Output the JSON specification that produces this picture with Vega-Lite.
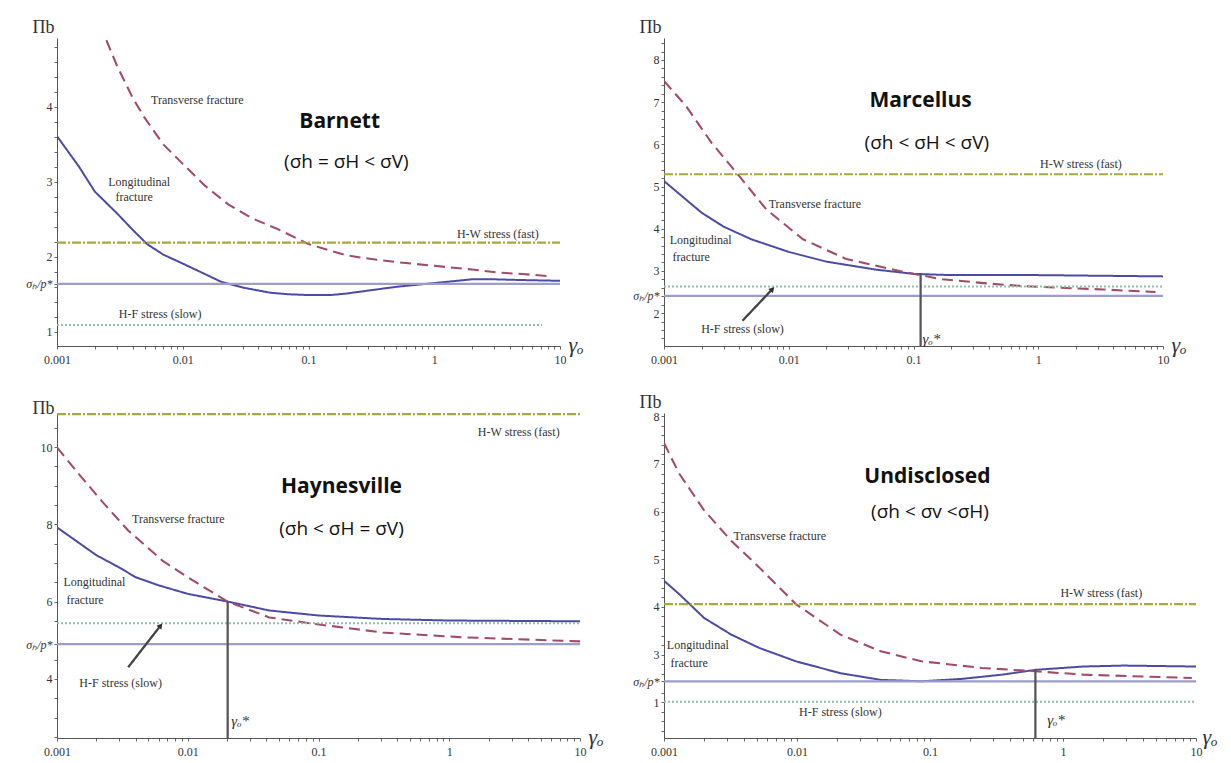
{
  "$schema": "https://vega.github.io/schema/vega-lite/v6.json",
  "autosize": {"type": "none"},
  "padding": {"left": 57, "top": 38, "right": 1174, "bottom": 725},
  "background": "white",
  "config": {
    "view": {"stroke": null},
    "axis": {"domainColor": "#555", "tickColor": "#666", "labelFont": "Liberation Serif", "labelFontSize": 12, "labelColor": "#333", "grid": false, "tickSize": 3, "labelOverlap": false, "labelFlush": false, "titleFont": "Liberation Serif", "titleFontWeight": "normal", "titleColor": "#333"}
  },
  "datasets": {
    "bl": [
      {"s":"L","x":0.001,"y":3.61},{"s":"L","x":0.0015,"y":3.2},{"s":"L","x":0.002,"y":2.87},{"s":"L","x":0.003,"y":2.58},{"s":"L","x":0.004,"y":2.36},{"s":"L","x":0.0052,"y":2.17},{"s":"L","x":0.007,"y":2.03},{"s":"L","x":0.01,"y":1.91},{"s":"L","x":0.015,"y":1.77},{"s":"L","x":0.02,"y":1.67},{"s":"L","x":0.03,"y":1.59},{"s":"L","x":0.05,"y":1.52},{"s":"L","x":0.07,"y":1.5},{"s":"L","x":0.1,"y":1.49},{"s":"L","x":0.15,"y":1.49},{"s":"L","x":0.2,"y":1.51},{"s":"L","x":0.3,"y":1.55},{"s":"L","x":0.5,"y":1.6},{"s":"L","x":1,"y":1.65},{"s":"L","x":2,"y":1.7},{"s":"L","x":3,"y":1.7},{"s":"L","x":5,"y":1.69},{"s":"L","x":10,"y":1.68},
      {"s":"T","x":0.00247,"y":4.89},{"s":"T","x":0.003,"y":4.55},{"s":"T","x":0.004,"y":4.12},{"s":"T","x":0.005,"y":3.85},{"s":"T","x":0.007,"y":3.5},{"s":"T","x":0.01,"y":3.24},{"s":"T","x":0.015,"y":2.95},{"s":"T","x":0.023,"y":2.7},{"s":"T","x":0.035,"y":2.52},{"s":"T","x":0.057,"y":2.37},{"s":"T","x":0.1,"y":2.17},{"s":"T","x":0.15,"y":2.08},{"s":"T","x":0.2,"y":2.02},{"s":"T","x":0.35,"y":1.96},{"s":"T","x":0.5,"y":1.93},{"s":"T","x":1,"y":1.88},{"s":"T","x":2,"y":1.83},{"s":"T","x":3.2,"y":1.79},{"s":"T","x":5,"y":1.77},{"s":"T","x":8.5,"y":1.74},
      {"s":"HW","x":0.001,"y":2.19},{"s":"HW","x":10,"y":2.19},
      {"s":"HF","x":0.001,"y":1.09},{"s":"HF","x":7.2,"y":1.09},
      {"s":"S","x":0.001,"y":1.64},{"s":"S","x":10,"y":1.64}
    ],
    "bt": [
      {"k":"name","t":"Barnett","x":0.177,"y":3.8},
      {"k":"sub","t":"(σh = σH < σV)","x":0.2,"y":3.27},
      {"k":"annL","t":"Transverse fracture","x":0.0056,"y":4.09},
      {"k":"ann","t":"Longitudinal","x":0.0045,"y":3.0},
      {"k":"ann","t":"fracture","x":0.0041,"y":2.8},
      {"k":"ann","t":"H-W stress (fast)","x":3.2,"y":2.3},
      {"k":"ann","t":"H-F stress (slow)","x":0.0066,"y":1.24}
    ],
    "ml": [
      {"s":"L","x":0.001,"y":5.13},{"s":"L","x":0.002,"y":4.38},{"s":"L","x":0.003,"y":4.05},{"s":"L","x":0.005,"y":3.75},{"s":"L","x":0.01,"y":3.45},{"s":"L","x":0.02,"y":3.22},{"s":"L","x":0.05,"y":3.03},{"s":"L","x":0.1,"y":2.93},{"s":"L","x":0.2,"y":2.9},{"s":"L","x":1,"y":2.9},{"s":"L","x":10,"y":2.87},
      {"s":"T","x":0.001,"y":7.5},{"s":"T","x":0.0015,"y":6.91},{"s":"T","x":0.0024,"y":6.04},{"s":"T","x":0.004,"y":5.25},{"s":"T","x":0.0066,"y":4.46},{"s":"T","x":0.013,"y":3.75},{"s":"T","x":0.029,"y":3.28},{"s":"T","x":0.082,"y":2.98},{"s":"T","x":0.17,"y":2.8},{"s":"T","x":0.4,"y":2.7},{"s":"T","x":0.75,"y":2.64},{"s":"T","x":1.5,"y":2.6},{"s":"T","x":3.3,"y":2.56},{"s":"T","x":8.7,"y":2.5},
      {"s":"HW","x":0.001,"y":5.29},{"s":"HW","x":10,"y":5.29},
      {"s":"HF","x":0.001,"y":2.63},{"s":"HF","x":10,"y":2.63},
      {"s":"S","x":0.001,"y":2.41},{"s":"S","x":10,"y":2.41},
      {"s":"G","x":0.114,"y":1.22},{"s":"G","x":0.114,"y":2.92},
      {"s":"A","x":0.00426,"y":1.82},{"s":"A","x":0.0074,"y":2.57}
    ],
    "mt": [
      {"k":"name","t":"Marcellus","x":0.114,"y":7.03},
      {"k":"sub","t":"(σh < σH < σV)","x":0.128,"y":6.04},
      {"k":"ann","t":"H-W stress (fast)","x":2.2,"y":5.53},
      {"k":"annL","t":"Transverse fracture","x":0.0069,"y":4.58},
      {"k":"annL","t":"Longitudinal","x":0.00111,"y":3.73},
      {"k":"annL","t":"fracture","x":0.00117,"y":3.32},
      {"k":"ann","t":"H-F stress (slow)","x":0.00426,"y":1.62},
      {"k":"gam","t":"γₒ*","x":0.118,"y":1.38},
      {"k":"head","t":"","x":0.0074,"y":2.57}
    ],
    "hl": [
      {"s":"L","x":0.001,"y":7.92},{"s":"L","x":0.002,"y":7.2},{"s":"L","x":0.003,"y":6.88},{"s":"L","x":0.004,"y":6.63},{"s":"L","x":0.006,"y":6.42},{"s":"L","x":0.01,"y":6.2},{"s":"L","x":0.0202,"y":6.0},{"s":"L","x":0.042,"y":5.77},{"s":"L","x":0.1,"y":5.64},{"s":"L","x":0.31,"y":5.55},{"s":"L","x":1,"y":5.51},{"s":"L","x":10,"y":5.49},
      {"s":"T","x":0.001,"y":9.99},{"s":"T","x":0.00147,"y":9.3},{"s":"T","x":0.0022,"y":8.6},{"s":"T","x":0.0035,"y":7.84},{"s":"T","x":0.0064,"y":7.06},{"s":"T","x":0.011,"y":6.54},{"s":"T","x":0.0202,"y":6.0},{"s":"T","x":0.042,"y":5.59},{"s":"T","x":0.094,"y":5.42},{"s":"T","x":0.31,"y":5.2},{"s":"T","x":1.2,"y":5.08},{"s":"T","x":10,"y":4.97},
      {"s":"HW","x":0.001,"y":10.85},{"s":"HW","x":10,"y":10.85},
      {"s":"HF","x":0.001,"y":5.44},{"s":"HF","x":10,"y":5.44},
      {"s":"S","x":0.001,"y":4.9},{"s":"S","x":10,"y":4.9},
      {"s":"G","x":0.0202,"y":2.47},{"s":"G","x":0.0202,"y":6.0},
      {"s":"A","x":0.0035,"y":4.3},{"s":"A","x":0.0062,"y":5.38}
    ],
    "ht": [
      {"k":"name","t":"Haynesville","x":0.15,"y":8.96},
      {"k":"sub","t":"(σh < σH = σV)","x":0.15,"y":7.88},
      {"k":"ann","t":"H-W stress (fast)","x":3.4,"y":10.38},
      {"k":"annL","t":"Transverse fracture","x":0.00375,"y":8.14},
      {"k":"annL","t":"Longitudinal","x":0.00112,"y":6.5},
      {"k":"annL","t":"fracture","x":0.00118,"y":6.03},
      {"k":"ann","t":"H-F stress (slow)","x":0.00307,"y":3.89},
      {"k":"gam","t":"γₒ*","x":0.0215,"y":2.92},
      {"k":"head","t":"","x":0.0062,"y":5.38}
    ],
    "ul": [
      {"s":"L","x":0.001,"y":4.55},{"s":"L","x":0.0013,"y":4.27},{"s":"L","x":0.002,"y":3.77},{"s":"L","x":0.0032,"y":3.42},{"s":"L","x":0.0052,"y":3.14},{"s":"L","x":0.0098,"y":2.86},{"s":"L","x":0.0212,"y":2.61},{"s":"L","x":0.0426,"y":2.47},{"s":"L","x":0.086,"y":2.44},{"s":"L","x":0.173,"y":2.49},{"s":"L","x":0.35,"y":2.58},{"s":"L","x":0.62,"y":2.68},{"s":"L","x":1.42,"y":2.75},{"s":"L","x":2.87,"y":2.77},{"s":"L","x":10,"y":2.75},
      {"s":"T","x":0.001,"y":7.44},{"s":"T","x":0.0013,"y":6.8},{"s":"T","x":0.002,"y":6.03},{"s":"T","x":0.0032,"y":5.39},{"s":"T","x":0.0052,"y":4.83},{"s":"T","x":0.0098,"y":4.06},{"s":"T","x":0.0212,"y":3.42},{"s":"T","x":0.0426,"y":3.07},{"s":"T","x":0.086,"y":2.86},{"s":"T","x":0.245,"y":2.72},{"s":"T","x":0.62,"y":2.65},{"s":"T","x":1.42,"y":2.58},{"s":"T","x":4,"y":2.54},{"s":"T","x":9.3,"y":2.51},
      {"s":"HW","x":0.001,"y":4.06},{"s":"HW","x":10,"y":4.06},
      {"s":"HF","x":0.001,"y":2.01},{"s":"HF","x":10,"y":2.01},
      {"s":"S","x":0.001,"y":2.44},{"s":"S","x":10,"y":2.44},
      {"s":"G","x":0.62,"y":1.25},{"s":"G","x":0.62,"y":2.68}
    ],
    "ut": [
      {"k":"name","t":"Undisclosed","x":0.0956,"y":6.73},
      {"k":"sub","t":"(σh < σv <σH)","x":0.1,"y":6.0},
      {"k":"annL","t":"Transverse fracture","x":0.00333,"y":5.49},
      {"k":"ann","t":"H-W stress (fast)","x":1.94,"y":4.29},
      {"k":"annL","t":"Longitudinal","x":0.00105,"y":3.21},
      {"k":"annL","t":"fracture","x":0.00112,"y":2.82},
      {"k":"ann","t":"H-F stress (slow)","x":0.0212,"y":1.8},
      {"k":"gam","t":"γₒ*","x":0.76,"y":1.63}
    ]
  },
  "columns": 2,
  "align": "none",
  "bounds": "flush",
  "spacing": {"row": 67, "column": 84},
  "concat": [
    {
      "width": 503, "height": 308,
      "encoding": {
        "x": {"field":"x","type":"quantitative","scale":{"type":"log","domain":[0.001,10],"nice":false},
          "axis":{"values":[0.001,0.002,0.003,0.004,0.005,0.006,0.007,0.008,0.009,0.01,0.02,0.03,0.04,0.05,0.06,0.07,0.08,0.09,0.1,0.2,0.3,0.4,0.5,0.6,0.7,0.8,0.9,1,2,3,4,5,6,7,8,9,10],"format":"~g","labelExpr":"indexof(['0.001','0.01','0.1','1','10'], datum.label) >= 0 ? datum.label : ''","labelPadding":5,"title":"γₒ","titleX":511,"titleY":-2,"titleAlign":"left","titleBaseline":"middle","titleAngle":0,"titleFontSize":22,"titleFontStyle":"italic"}},
        "y": {"field":"y","type":"quantitative","scale":{"domain":[0.81,4.92],"nice":false,"zero":false},
          "axis":{"values":[1,1.2,1.4,1.6,1.64,1.8,2,2.2,2.4,2.6,2.8,3,3.2,3.4,3.6,3.8,4,4.2,4.4,4.6,4.8],"format":"~g","labelExpr":"datum.value == 1.64 ? 'σₕ/p*' : (datum.value % 1 == 0 ? datum.label : '')","labelFontStyle":{"condition":{"test":"datum.value == 1.64","value":"italic"},"value":"normal"},"title":"Πb","titleAngle":0,"titleX":-3,"titleY":-2,"titleAlign":"right","titleBaseline":"bottom","titleFontSize":18}}
      },
      "layer": [
        {"data":{"name":"bl"},"mark":{"type":"line","clip":true},
         "encoding":{
           "color":{"field":"s","type":"nominal","scale":{"domain":["L","T","HW","HF","S","G","A"],"range":["#4b4ba6","#a34a66","#a8a83c","#8fbfa8","#9d9dcc","#555555","#444444"]},"legend":null},
           "strokeDash":{"field":"s","type":"nominal","scale":{"domain":["L","T","HW","HF","S","G","A"],"range":[[1,0],[11,6],[9,2,2,2],[2,2],[1,0],[1,0],[1,0]]},"legend":null},
           "strokeWidth":{"field":"s","type":"ordinal","scale":{"domain":["L","T","HW","HF","S","G","A"],"range":[2,2.3,1.6,1.3,1.3,0.9,0.9]},"legend":null}}},
        {"data":{"name":"bt"},"transform":[{"filter":"datum.k == 'name'"}],"mark":{"type":"text","font":"Open Sans","fontWeight":"bold","fontSize":21,"color":"#111","baseline":"middle"},"encoding":{"text":{"field":"t"}}},
        {"data":{"name":"bt"},"transform":[{"filter":"datum.k == 'sub'"}],"mark":{"type":"text","font":"Open Sans","fontSize":19,"color":"#111","baseline":"middle"},"encoding":{"text":{"field":"t"}}},
        {"data":{"name":"bt"},"transform":[{"filter":"datum.k == 'ann'"}],"mark":{"type":"text","font":"Liberation Serif","fontSize":12,"color":"#333","baseline":"middle"},"encoding":{"text":{"field":"t"}}},
        {"data":{"name":"bt"},"transform":[{"filter":"datum.k == 'annL'"}],"mark":{"type":"text","font":"Liberation Serif","fontSize":12,"color":"#333","baseline":"middle","align":"left"},"encoding":{"text":{"field":"t"}}}
      ]
    },
    {
      "width": 499, "height": 308,
      "encoding": {
        "x": {"field":"x","type":"quantitative","scale":{"type":"log","domain":[0.001,10],"nice":false},
          "axis":{"values":[0.001,0.002,0.003,0.004,0.005,0.006,0.007,0.008,0.009,0.01,0.02,0.03,0.04,0.05,0.06,0.07,0.08,0.09,0.1,0.2,0.3,0.4,0.5,0.6,0.7,0.8,0.9,1,2,3,4,5,6,7,8,9,10],"format":"~g","labelExpr":"indexof(['0.001','0.01','0.1','1','10'], datum.label) >= 0 ? datum.label : ''","labelPadding":5,"title":"γₒ","titleX":507,"titleY":-2,"titleAlign":"left","titleBaseline":"middle","titleAngle":0,"titleFontSize":22,"titleFontStyle":"italic"}},
        "y": {"field":"y","type":"quantitative","scale":{"domain":[1.22,8.52],"nice":false,"zero":false},
          "axis":{"values":[1.4,1.6,1.8,2,2.2,2.41,2.6,2.8,3,3.2,3.4,3.6,3.8,4,4.2,4.4,4.6,4.8,5,5.2,5.4,5.6,5.8,6,6.2,6.4,6.6,6.8,7,7.2,7.4,7.6,7.8,8,8.2,8.4],"format":"~g","labelExpr":"datum.value == 2.41 ? 'σₕ/p*' : (datum.value % 1 == 0 ? datum.label : '')","labelFontStyle":{"condition":{"test":"datum.value == 2.41","value":"italic"},"value":"normal"},"title":"Πb","titleAngle":0,"titleX":-3,"titleY":-2,"titleAlign":"right","titleBaseline":"bottom","titleFontSize":18}}
      },
      "layer": [
        {"data":{"name":"ml"},"mark":{"type":"line","clip":true},
         "encoding":{
           "color":{"field":"s","type":"nominal","scale":{"domain":["L","T","HW","HF","S","G","A"],"range":["#4b4ba6","#a34a66","#a8a83c","#8fbfa8","#9d9dcc","#555555","#444444"]},"legend":null},
           "strokeDash":{"field":"s","type":"nominal","scale":{"domain":["L","T","HW","HF","S","G","A"],"range":[[1,0],[11,6],[9,2,2,2],[2,2],[1,0],[1,0],[1,0]]},"legend":null},
           "strokeWidth":{"field":"s","type":"ordinal","scale":{"domain":["L","T","HW","HF","S","G","A"],"range":[2,2.3,1.6,1.3,1.3,0.9,0.9]},"legend":null}}},
        {"data":{"name":"mt"},"transform":[{"filter":"datum.k == 'head'"}],"mark":{"type":"point","shape":"triangle-up","angle":43,"size":40,"filled":true,"color":"#333","opacity":1}},
        {"data":{"name":"mt"},"transform":[{"filter":"datum.k == 'name'"}],"mark":{"type":"text","font":"Open Sans","fontWeight":"bold","fontSize":21,"color":"#111","baseline":"middle"},"encoding":{"text":{"field":"t"}}},
        {"data":{"name":"mt"},"transform":[{"filter":"datum.k == 'sub'"}],"mark":{"type":"text","font":"Open Sans","fontSize":19,"color":"#111","baseline":"middle"},"encoding":{"text":{"field":"t"}}},
        {"data":{"name":"mt"},"transform":[{"filter":"datum.k == 'ann'"}],"mark":{"type":"text","font":"Liberation Serif","fontSize":12,"color":"#333","baseline":"middle"},"encoding":{"text":{"field":"t"}}},
        {"data":{"name":"mt"},"transform":[{"filter":"datum.k == 'annL'"}],"mark":{"type":"text","font":"Liberation Serif","fontSize":12,"color":"#333","baseline":"middle","align":"left"},"encoding":{"text":{"field":"t"}}},
        {"data":{"name":"mt"},"transform":[{"filter":"datum.k == 'gam'"}],"mark":{"type":"text","font":"Liberation Serif","fontSize":15,"fontStyle":"italic","color":"#333","baseline":"middle","align":"left"},"encoding":{"text":{"field":"t"}}}
      ]
    },
    {
      "width": 523, "height": 325,
      "encoding": {
        "x": {"field":"x","type":"quantitative","scale":{"type":"log","domain":[0.001,10],"nice":false},
          "axis":{"values":[0.001,0.002,0.003,0.004,0.005,0.006,0.007,0.008,0.009,0.01,0.02,0.03,0.04,0.05,0.06,0.07,0.08,0.09,0.1,0.2,0.3,0.4,0.5,0.6,0.7,0.8,0.9,1,2,3,4,5,6,7,8,9,10],"format":"~g","labelExpr":"indexof(['0.001','0.01','0.1','1','10'], datum.label) >= 0 ? datum.label : ''","labelPadding":5,"title":"γₒ","titleX":531,"titleY":-2,"titleAlign":"left","titleBaseline":"middle","titleAngle":0,"titleFontSize":22,"titleFontStyle":"italic"}},
        "y": {"field":"y","type":"quantitative","scale":{"domain":[2.47,10.88],"nice":false,"zero":false},
          "axis":{"values":[2.5,3,3.5,4,4.5,4.9,5.5,6,6.5,7,7.5,8,8.5,9,9.5,10,10.5],"format":"~g","labelExpr":"datum.value == 4.9 ? 'σₕ/p*' : (datum.value % 2 == 0 ? datum.label : '')","labelFontStyle":{"condition":{"test":"datum.value == 4.9","value":"italic"},"value":"normal"},"title":"Πb","titleAngle":0,"titleX":-3,"titleY":4,"titleAlign":"right","titleBaseline":"bottom","titleFontSize":18}}
      },
      "layer": [
        {"data":{"name":"hl"},"mark":{"type":"line","clip":true},
         "encoding":{
           "color":{"field":"s","type":"nominal","scale":{"domain":["L","T","HW","HF","S","G","A"],"range":["#4b4ba6","#a34a66","#a8a83c","#8fbfa8","#9d9dcc","#555555","#444444"]},"legend":null},
           "strokeDash":{"field":"s","type":"nominal","scale":{"domain":["L","T","HW","HF","S","G","A"],"range":[[1,0],[11,6],[9,2,2,2],[2,2],[1,0],[1,0],[1,0]]},"legend":null},
           "strokeWidth":{"field":"s","type":"ordinal","scale":{"domain":["L","T","HW","HF","S","G","A"],"range":[2,2.3,1.6,1.3,1.3,0.9,0.9]},"legend":null}}},
        {"data":{"name":"ht"},"transform":[{"filter":"datum.k == 'head'"}],"mark":{"type":"point","shape":"triangle-up","angle":38,"size":40,"filled":true,"color":"#333","opacity":1}},
        {"data":{"name":"ht"},"transform":[{"filter":"datum.k == 'name'"}],"mark":{"type":"text","font":"Open Sans","fontWeight":"bold","fontSize":21,"color":"#111","baseline":"middle"},"encoding":{"text":{"field":"t"}}},
        {"data":{"name":"ht"},"transform":[{"filter":"datum.k == 'sub'"}],"mark":{"type":"text","font":"Open Sans","fontSize":19,"color":"#111","baseline":"middle"},"encoding":{"text":{"field":"t"}}},
        {"data":{"name":"ht"},"transform":[{"filter":"datum.k == 'ann'"}],"mark":{"type":"text","font":"Liberation Serif","fontSize":12,"color":"#333","baseline":"middle"},"encoding":{"text":{"field":"t"}}},
        {"data":{"name":"ht"},"transform":[{"filter":"datum.k == 'annL'"}],"mark":{"type":"text","font":"Liberation Serif","fontSize":12,"color":"#333","baseline":"middle","align":"left"},"encoding":{"text":{"field":"t"}}},
        {"data":{"name":"ht"},"transform":[{"filter":"datum.k == 'gam'"}],"mark":{"type":"text","font":"Liberation Serif","fontSize":15,"fontStyle":"italic","color":"#333","baseline":"middle","align":"left"},"encoding":{"text":{"field":"t"}}}
      ]
    },
    {
      "width": 532, "height": 325,
      "encoding": {
        "x": {"field":"x","type":"quantitative","scale":{"type":"log","domain":[0.001,10],"nice":false},
          "axis":{"values":[0.001,0.002,0.003,0.004,0.005,0.006,0.007,0.008,0.009,0.01,0.02,0.03,0.04,0.05,0.06,0.07,0.08,0.09,0.1,0.2,0.3,0.4,0.5,0.6,0.7,0.8,0.9,1,2,3,4,5,6,7,8,9,10],"format":"~g","labelExpr":"indexof(['0.001','0.01','0.1','1','10'], datum.label) >= 0 ? datum.label : ''","labelPadding":5,"title":"γₒ","titleX":538,"titleY":-2,"titleAlign":"left","titleBaseline":"middle","titleAngle":0,"titleFontSize":22,"titleFontStyle":"italic"}},
        "y": {"field":"y","type":"quantitative","scale":{"domain":[1.25,8.07],"nice":false,"zero":false},
          "axis":{"values":[1.4,1.6,1.8,2,2.2,2.44,2.6,2.8,3,3.2,3.4,3.6,3.8,4,4.2,4.4,4.6,4.8,5,5.2,5.4,5.6,5.8,6,6.2,6.4,6.6,6.8,7,7.2,7.4,7.6,7.8,8],"format":"~g","labelExpr":"datum.value == 2 ? '1' : (datum.value == 2.44 ? 'σₕ/p*' : (datum.value % 1 == 0 ? datum.label : ''))","labelFontStyle":{"condition":{"test":"datum.value == 2.44","value":"italic"},"value":"normal"},"title":"Πb","titleAngle":0,"titleX":-3,"titleY":-2,"titleAlign":"right","titleBaseline":"bottom","titleFontSize":18}}
      },
      "layer": [
        {"data":{"name":"ul"},"mark":{"type":"line","clip":true},
         "encoding":{
           "color":{"field":"s","type":"nominal","scale":{"domain":["L","T","HW","HF","S","G","A"],"range":["#4b4ba6","#a34a66","#a8a83c","#8fbfa8","#9d9dcc","#555555","#444444"]},"legend":null},
           "strokeDash":{"field":"s","type":"nominal","scale":{"domain":["L","T","HW","HF","S","G","A"],"range":[[1,0],[11,6],[9,2,2,2],[2,2],[1,0],[1,0],[1,0]]},"legend":null},
           "strokeWidth":{"field":"s","type":"ordinal","scale":{"domain":["L","T","HW","HF","S","G","A"],"range":[2,2.3,1.6,1.3,1.3,0.9,0.9]},"legend":null}}},
        {"data":{"name":"ut"},"transform":[{"filter":"datum.k == 'name'"}],"mark":{"type":"text","font":"Open Sans","fontWeight":"bold","fontSize":21,"color":"#111","baseline":"middle"},"encoding":{"text":{"field":"t"}}},
        {"data":{"name":"ut"},"transform":[{"filter":"datum.k == 'sub'"}],"mark":{"type":"text","font":"Open Sans","fontSize":19,"color":"#111","baseline":"middle"},"encoding":{"text":{"field":"t"}}},
        {"data":{"name":"ut"},"transform":[{"filter":"datum.k == 'ann'"}],"mark":{"type":"text","font":"Liberation Serif","fontSize":12,"color":"#333","baseline":"middle"},"encoding":{"text":{"field":"t"}}},
        {"data":{"name":"ut"},"transform":[{"filter":"datum.k == 'annL'"}],"mark":{"type":"text","font":"Liberation Serif","fontSize":12,"color":"#333","baseline":"middle","align":"left"},"encoding":{"text":{"field":"t"}}},
        {"data":{"name":"ut"},"transform":[{"filter":"datum.k == 'gam'"}],"mark":{"type":"text","font":"Liberation Serif","fontSize":15,"fontStyle":"italic","color":"#333","baseline":"middle","align":"left"},"encoding":{"text":{"field":"t"}}}
      ]
    }
  ]
}
